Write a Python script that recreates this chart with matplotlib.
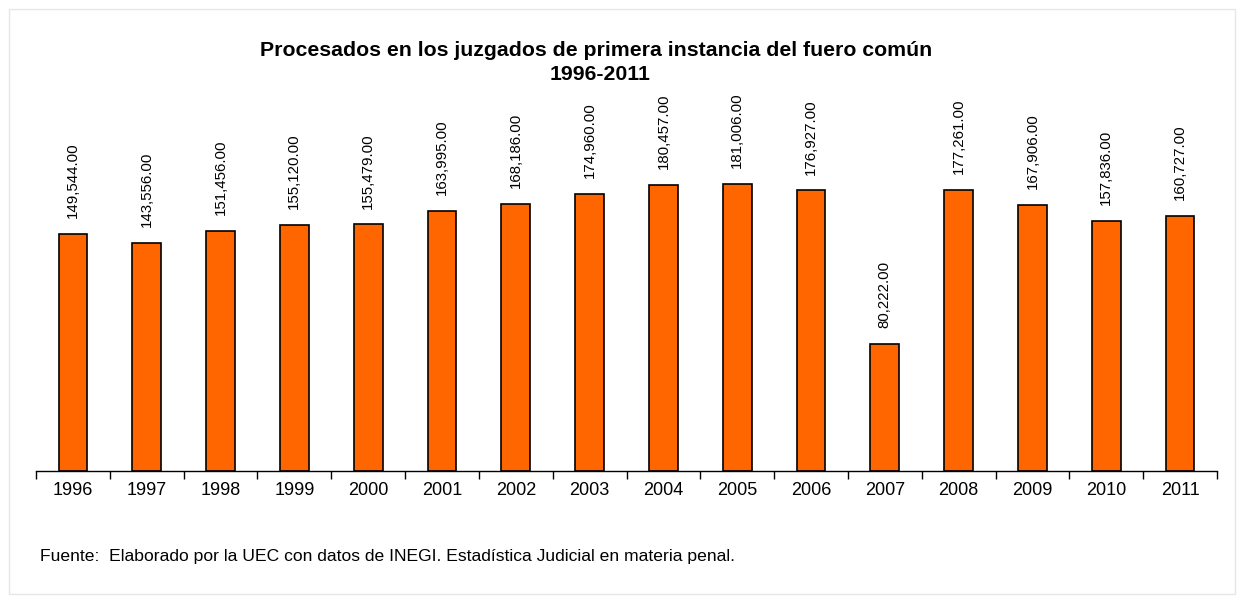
import matplotlib
matplotlib.use("Agg")
import matplotlib.pyplot as plt
from matplotlib.patches import Rectangle

plt.rcParams['font.family'] = ['Liberation Sans', 'DejaVu Sans']

years = ['1996', '1997', '1998', '1999', '2000', '2001', '2002', '2003',
         '2004', '2005', '2006', '2007', '2008', '2009', '2010', '2011']
procesados = [149544, 143556, 151456, 155120, 155479, 163995, 168186, 174960,
              180457, 181006, 176927, 80222, 177261, 167906, 157836, 160727]

fig = plt.figure(figsize=(12.39, 5.97), dpi=100)
fig.patches.append(Rectangle((0.007, 0.005), 0.99, 0.98, transform=fig.transFigure,
                             fill=False, edgecolor='#e6e6e6', linewidth=1))
ax = fig.add_axes([36/1239, (597-471)/597, (1217-36)/1239, (471-100)/597])

x = range(len(years))
bars = ax.bar(x, procesados, width=0.39, color='#FF6600', edgecolor='black', linewidth=1.2)
for xi, v in zip(x, procesados):
    ax.annotate(f'{v:,.2f}', (xi, v), xytext=(0, 11.5), textcoords='offset points',
                rotation=90, ha='center', va='bottom', fontsize=10.8)

ax.set_xlim(-0.5, len(years) - 0.5)
ax.set_ylim(0, 234000)
ax.set_xticks(x)
ax.set_xticklabels(years, fontsize=13)
ax.set_xticks([i - 0.5 for i in range(len(years) + 1)], minor=True)
ax.tick_params(axis='x', which='major', length=0, pad=8)
ax.tick_params(axis='x', which='minor', length=6, width=1, direction='out')
ax.set_yticks([])
for s in ['top', 'right', 'left']:
    ax.spines[s].set_visible(False)
ax.spines['bottom'].set_linewidth(1)

fig.text(596/1239, 1 - 51/597, 'Procesados en los juzgados de primera instancia del fuero común',
         ha='center', va='center', fontsize=15.3, fontweight='bold')
fig.text(600/1239, 1 - 74/597, '1996-2011', ha='center', va='center', fontsize=15.3, fontweight='bold')
fig.text(40/1239, 1 - 556/597,
         'Fuente:  Elaborado por la UEC con datos de INEGI. Estadística Judicial en materia penal.',
         ha='left', va='center', fontsize=12.6)

fig.savefig('out.png', dpi=100)
